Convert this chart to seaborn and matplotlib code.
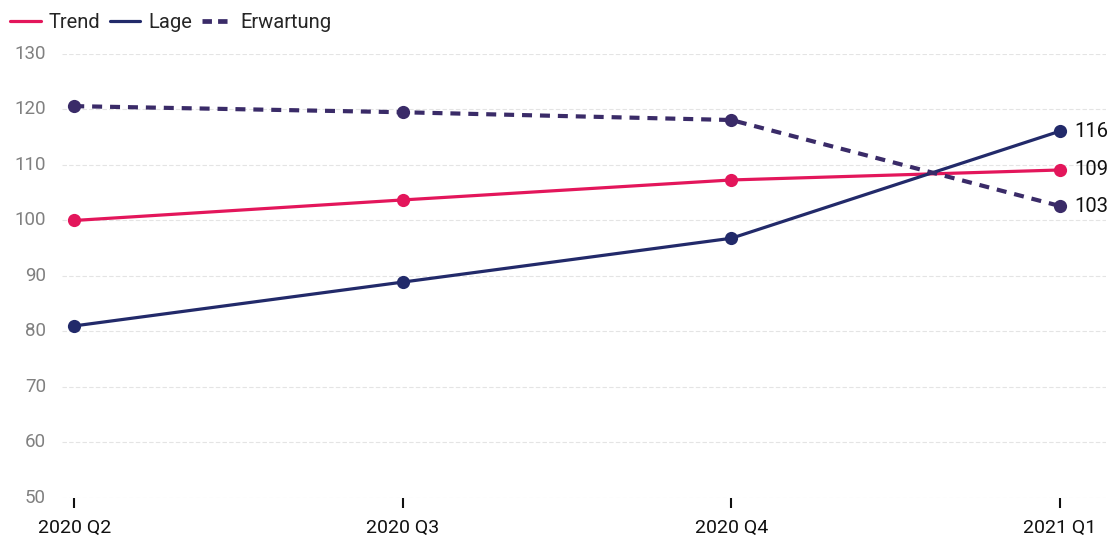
import matplotlib
matplotlib.use("Agg")
import matplotlib.pyplot as plt
import matplotlib.transforms as mtransforms
import seaborn as sns
import pandas as pd
from matplotlib.lines import Line2D

quarters = ["2020 Q2", "2020 Q3", "2020 Q4", "2021 Q1"]
trend = [100.0, 103.7, 107.3, 109.1]
lage = [81.0, 88.9, 96.8, 116.1]
erwartung = [120.6, 119.5, 118.1, 102.6]
series_names = ["Trend", "Lage", "Erwartung"]
end_labels = ["109", "116", "103"]
y_ticks = [50, 60, 70, 80, 90, 100, 110, 120, 130]

colors = {"Trend": "#E3165B", "Lage": "#222A6A", "Erwartung": "#3A2B68"}

sns.set_theme(style="white")
plt.rcParams['font.family'] = ['Roboto', 'DejaVu Sans']

rows = []
for name, vals in zip(series_names, [trend, lage, erwartung]):
    for i, (q, v) in enumerate(zip(quarters, vals)):
        rows.append({"x": i, "quarter": q, "value": v, "series": name})
df = pd.DataFrame(rows)

fig = plt.figure(figsize=(11.16, 5.43), dpi=100)
ax = fig.add_axes([0.0556, 0.0829, 0.9355, 0.8177])

sns.lineplot(data=df[df.series != "Erwartung"], x="x", y="value", hue="series",
             palette={k: colors[k] for k in ["Trend", "Lage"]},
             marker="o", markersize=9.5, markeredgewidth=0, linewidth=2.3,
             ax=ax, legend=False)
sns.lineplot(data=df[df.series == "Erwartung"], x="x", y="value",
             color=colors["Erwartung"], linewidth=3.0, dashes=False,
             linestyle=(0, (2.4, 1.9)), marker="o", markersize=9.5,
             markeredgewidth=0, ax=ax, legend=False)

for name, vals, lab in zip(series_names, [trend, lage, erwartung], end_labels):
    ax.annotate(lab, (3, vals[-1]), xytext=(10, 0), textcoords="offset points",
                va="center", ha="left", fontsize=14.5, color="#111111")

ax.set_xlim(-0.037, 3.14)
ax.set_ylim(50, 130)
ax.set_yticks(y_ticks)
ax.tick_params(axis="y", left=False, labelleft=False)
trans = mtransforms.blended_transform_factory(fig.transFigure, ax.transData)
for t in y_ticks:
    ax.text(46 / 1116, t, str(t), transform=trans, ha="right", va="center",
            fontsize=13.5, color="#808080", clip_on=False)
ax.set_xticks(range(len(quarters)))
ax.set_xticklabels(quarters, fontsize=14, color="#111111")
ax.tick_params(axis="x", bottom=True, length=7, width=1.5, color="#111111",
               direction="out", pad=8)
for s in ax.spines.values():
    s.set_visible(False)
ax.yaxis.grid(True, color="#e4e4e4", linewidth=0.8, linestyle=(0, (4, 2)))
ax.xaxis.grid(False)
ax.set_xlabel("")
ax.set_ylabel("")

handles = [Line2D([], [], color=colors["Trend"], lw=2.3),
           Line2D([], [], color=colors["Lage"], lw=2.3),
           Line2D([], [], color=colors["Erwartung"], lw=3.4, linestyle=(0, (2.0, 1.3)))]
fig.legend(handles, series_names, loc="upper left", bbox_to_anchor=(-0.007, 1.01),
           ncol=3, frameon=False, fontsize=14.5, handlelength=1.5, handletextpad=0.4,
           columnspacing=0.5)

fig.savefig("out.png", dpi=100, facecolor="white")
